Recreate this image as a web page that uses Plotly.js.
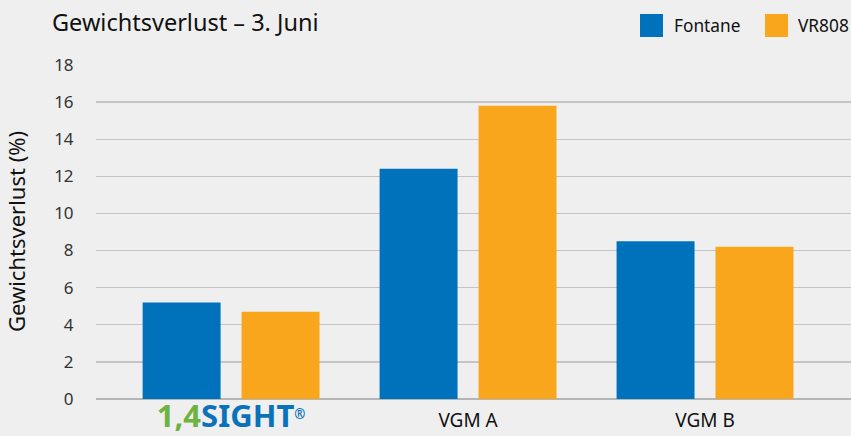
<!DOCTYPE html>
<html><head><meta charset="utf-8">
<script src="https://cdn.plot.ly/plotly-3.0.1.min.js"></script>
<style>html,body{margin:0;padding:0;background:#efefef;}</style>
</head><body><div id="chart" style="width:851px;height:436px;"></div>
<script>
var categories = ['1,4SIGHT', 'VGM A', 'VGM B'];
var tickLabels = ['<b><span style="color:#6cb33f;font-size:31px">1,4</span><span style="color:#0a72ba;font-size:31px">SIGHT</span><sup style="color:#0a72ba;font-size:21px">®</sup></b>', 'VGM A', 'VGM B'];
var seriesNames = ['Fontane', 'VR808'];
var fontaneValues = [5.2, 12.4, 8.5];
var vr808Values = [4.7, 15.8, 8.2];
var yTicks = [0, 2, 4, 6, 8, 10, 12, 14, 16, 18];
var colors = ['#0072bc', '#f9a61c'];

var font = '"Noto Sans", "Open Sans", sans-serif';
var traces = [
  {type: 'bar', name: seriesNames[0], x: categories, y: fontaneValues, marker: {color: colors[0]}, showlegend: false},
  {type: 'bar', name: seriesNames[1], x: categories, y: vr808Values, marker: {color: colors[1]}, showlegend: false}
];
function py(pix){ return (399 - pix) / 335; }
function px(pix){ return (pix - 96) / 755; }
var layout = {
  width: 851, height: 436,
  paper_bgcolor: '#efefef', plot_bgcolor: '#efefef',
  margin: {l: 96, r: 0, t: 64, b: 37},
  barmode: 'group', bargap: 0.165, bargroupgap: 0.212,
  font: {family: font, color: '#222'},
  title: {text: 'Gewichtsverlust – 3. Juni', x: 52/851, xanchor: 'left', y: 1 - 23/436, yanchor: 'middle', font: {size: 23.5, color: '#111', family: font}},
  xaxis: {
    type: 'category', range: [-0.57, 2.616],
    tickvals: categories, ticktext: tickLabels,
    tickfont: {size: 19, color: '#111', family: font},
    showgrid: false, showline: false, ticks: '', ticklen: 0, ticklabelstandoff: 8
  },
  yaxis: {
    range: [0, 18.05], tickvals: yTicks,
    tickfont: {size: 17, color: '#333', family: font},
    gridcolor: '#c4c4c4', gridwidth: 1.3,
    zeroline: true, zerolinecolor: '#b5b5b5', zerolinewidth: 2,
    ticks: 'outside', ticklen: 18, tickcolor: 'rgba(0,0,0,0)',
    title: {text: 'Gewichtsverlust (%)', standoff: 22, font: {size: 22, color: '#111', family: font}}
  },
  shapes: [
    {type: 'rect', xref: 'paper', yref: 'paper', x0: px(640), x1: px(663), y0: py(37), y1: py(14), line: {width: 0}, fillcolor: colors[0]},
    {type: 'rect', xref: 'paper', yref: 'paper', x0: px(765), x1: px(788), y0: py(37), y1: py(14), line: {width: 0}, fillcolor: colors[1]}
  ],
  annotations: [
    {xref: 'paper', yref: 'paper', x: px(672), y: py(26), xanchor: 'left', yanchor: 'middle', text: seriesNames[0], showarrow: false, font: {size: 17.3, color: '#111', family: font}},
    {xref: 'paper', yref: 'paper', x: px(796), y: py(26), xanchor: 'left', yanchor: 'middle', text: seriesNames[1], showarrow: false, font: {size: 17.3, color: '#111', family: font}}
  ]
};
Plotly.newPlot('chart', traces, layout, {displayModeBar: false, staticPlot: true});
</script></body></html>
